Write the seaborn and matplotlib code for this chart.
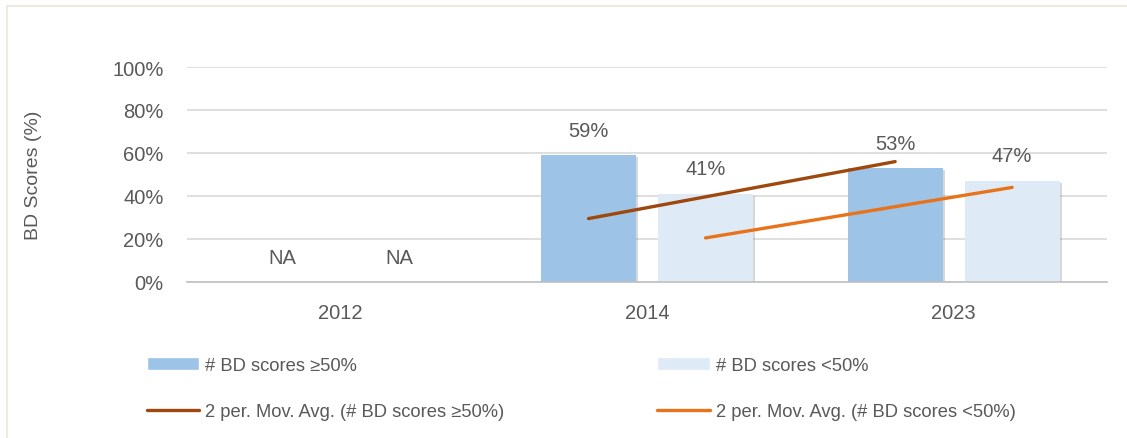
import numpy as np
import pandas as pd
import matplotlib.pyplot as plt
import seaborn as sns
from matplotlib.patches import Patch
from matplotlib.lines import Line2D
from matplotlib import patheffects as pe

years = ['2012', '2014', '2023']
ge50 = [np.nan, 59, 53]          # % BD scores >= 50%
lt50 = [np.nan, 41, 47]          # % BD scores < 50%
ma_years = ['2014', '2023']
ma_ge50 = [29.5, 56.0]           # 2 per. moving average as drawn
ma_lt50 = [20.5, 44.0]

s_ge = '# BD scores ≥50%'
s_lt = '# BD scores <50%'
colors = {s_ge: '#9DC3E6', s_lt: '#DEEBF7'}
ma_colors = ['#9E480E', '#E8731A']
grey = '#595959'

sns.set_theme(style='white', rc={'axes.grid': False})
plt.rcParams['font.family'] = ['Liberation Sans', 'DejaVu Sans']

df = pd.DataFrame({'year': years * 2,
                   'series': [s_ge] * 3 + [s_lt] * 3,
                   'value': ge50 + lt50})
df['plot'] = df['value'].fillna(0) / 100

fig = plt.figure(figsize=(11.27, 4.39), dpi=100)
ax = fig.add_axes([187 / 1127, 1 - 283 / 439, 920 / 1127, 215 / 439])

sns.barplot(data=df, x='year', y='plot', hue='series', palette=colors,
            order=years, hue_order=[s_ge, s_lt], width=0.763, gap=0.19,
            legend=False, ax=ax, saturation=1, linewidth=0)

ax.set_ylim(0, 1)
ax.set_xlim(-0.5, 2.5)
ax.set_yticks(np.arange(0, 1.01, 0.2))
ax.set_yticklabels([f'{int(t * 100)}%' for t in np.arange(0, 1.01, 0.2)])
ax.yaxis.grid(True, color='#D9D9D9', lw=1.2)
ax.set_axisbelow(True)
for sp in ['top', 'right', 'left']:
    ax.spines[sp].set_visible(False)
ax.spines['bottom'].set_color('#BFBFBF')
ax.spines['bottom'].set_linewidth(1.2)
ax.tick_params(axis='both', length=0, colors=grey, labelsize=14.5)
ax.tick_params(axis='x', pad=15)
ax.tick_params(axis='y', pad=17)
ax.set_xlabel('')
ax.set_ylabel('BD Scores (%)', color=grey, fontsize=14)
ax.yaxis.set_label_coords(-(187 - 42) / 920, 0.5)

# bar shadows and labels
centers = []
for cont, vals in zip(ax.containers, [ge50, lt50]):
    cx = []
    for bar, v in zip(cont, vals):
        bar.set_edgecolor('none')
        bar.set_path_effects([pe.SimplePatchShadow(offset=(1.5, -1.5), shadow_rgbFace='#7F7F7F', alpha=0.3),
                              pe.Normal()])
        x = bar.get_x() + bar.get_width() / 2
        cx.append(x)
        lab = 'NA' if np.isnan(v) else f'{int(v)}%'
        ax.annotate(lab, (x, bar.get_height()), xytext=(0, 18), textcoords='offset points',
                    ha='center', va='center', fontsize=14.5, color=grey)
    centers.append(cx)

# moving average lines at the bar positions of 2014 and 2023
for cx, ma, c in zip(centers, [ma_ge50, ma_lt50], ma_colors):
    xs = [cx[years.index(y)] for y in ma_years]
    sns.lineplot(x=xs, y=np.array(ma) / 100, color=c, lw=2.4, ax=ax,
                 solid_capstyle='round')

handles = [Patch(facecolor=colors[s_ge]),
           Line2D([], [], color=ma_colors[0], lw=2.4),
           Patch(facecolor=colors[s_lt]),
           Line2D([], [], color=ma_colors[1], lw=2.4)]
labels = [s_ge, f'2 per. Mov. Avg. ({s_ge})', s_lt, f'2 per. Mov. Avg. ({s_lt})']
fig.legend(handles, labels, ncol=2, frameon=False, loc='upper left',
           bbox_to_anchor=(147 / 1127, 1 - 358 / 439), borderpad=0, borderaxespad=0,
           fontsize=13.2, labelcolor=grey, handlelength=2.85, handletextpad=0.32,
           labelspacing=1.6, columnspacing=8.35)

# chart frame
fig.add_artist(Line2D([7 / 1127, 1], [1 - 7 / 439, 1 - 7 / 439], color='#EEEAE0', lw=1.5,
                      transform=fig.transFigure))
fig.add_artist(Line2D([7 / 1127, 7 / 1127], [0, 1 - 7 / 439], color='#EEEAE0', lw=1.5,
                      transform=fig.transFigure))

fig.savefig('out.png', dpi=100)
